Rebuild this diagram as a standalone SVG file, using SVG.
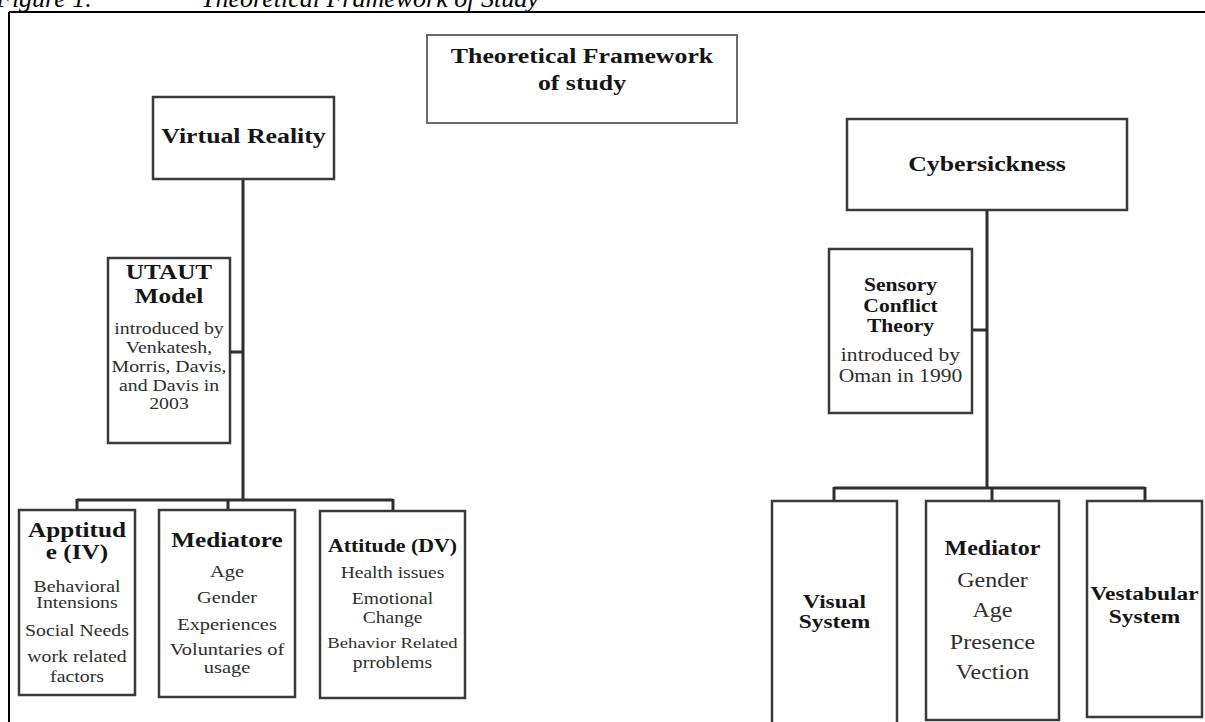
<svg xmlns="http://www.w3.org/2000/svg" width="1205" height="722" viewBox="0 0 1205 722">
<style>
.box{fill:#fff;stroke:#3a3a3a;stroke-width:2.5}
.tbox{fill:#fff;stroke:#6a6a6a;stroke-width:2}
.h{font-family:"Liberation Serif","Times New Roman",serif;font-weight:bold;text-anchor:middle;fill:#151515}
.b{font-family:"Liberation Serif","Times New Roman",serif;text-anchor:middle;fill:#2e2e2e}
.cap{font-family:"Liberation Serif","Times New Roman",serif;font-style:italic;font-size:26px;fill:#000}
#connectors line{stroke:#2e2e2e;stroke-width:3;fill:none}
</style>
<rect x="0" y="0" width="1205" height="722" fill="#fff"/>
<g id="caption">
<text class="cap" x="-4" y="7">Figure 1.</text>
<text class="cap" x="201" y="7">Theoretical Framework of Study</text>
</g>
<g id="frame">
<line x1="9" y1="12" x2="1205" y2="12" stroke="#000" stroke-width="2"/>
<line x1="9" y1="12" x2="9" y2="722" stroke="#000" stroke-width="2"/>
</g>
<g id="connectors">
<line x1="243" y1="179" x2="243" y2="500"/>
<line x1="230" y1="352" x2="243" y2="352"/>
<line x1="77" y1="500" x2="393" y2="500"/>
<line x1="77" y1="499" x2="77" y2="510"/>
<line x1="228" y1="499" x2="228" y2="510"/>
<line x1="393" y1="499" x2="393" y2="511"/>
<line x1="987" y1="210" x2="987" y2="488"/>
<line x1="972" y1="330" x2="987" y2="330"/>
<line x1="834" y1="488" x2="1145" y2="488"/>
<line x1="834" y1="487" x2="834" y2="501"/>
<line x1="992" y1="487" x2="992" y2="501"/>
<line x1="1145" y1="487" x2="1145" y2="501"/>
</g>
<g id="n-title">
<rect class="tbox" x="427" y="35" width="310" height="88"/>
<g transform="translate(582 0) scale(1.2 1)">
<text class="h" y="63" font-size="21.5">Theoretical Framework</text>
<text class="h" y="90" font-size="21.5">of study</text>
</g>
</g>
<g id="n-vr">
<rect class="box" x="153" y="97" width="181" height="82"/>
<g transform="translate(243.5 0) scale(1.2 1)">
<text class="h" y="143" font-size="21.5">Virtual Reality</text>
</g>
</g>
<g id="n-utaut">
<rect class="box" x="108" y="258" width="122" height="185"/>
<g transform="translate(169 0) scale(1.2 1)">
<text class="h" y="279" font-size="21">UTAUT</text>
<text class="h" y="303" font-size="21">Model</text>
<text class="b" y="334" font-size="16.5">introduced by</text>
<text class="b" y="353" font-size="16.5">Venkatesh,</text>
<text class="b" y="372" font-size="16.5">Morris, Davis,</text>
<text class="b" y="391" font-size="16.5">and Davis in</text>
<text class="b" y="409" font-size="16.5">2003</text>
</g>
</g>
<g id="n-apptitude">
<rect class="box" x="19" y="510" width="116" height="185"/>
<g transform="translate(77 0) scale(1.2 1)">
<text class="h" y="537" font-size="21">Apptitud</text>
<text class="h" y="559" font-size="21">e (IV)</text>
<text class="b" y="592" font-size="16.5">Behavioral</text>
<text class="b" y="608" font-size="16.5">Intensions</text>
<text class="b" y="636" font-size="16.5">Social Needs</text>
<text class="b" y="662" font-size="16.5">work related</text>
<text class="b" y="682" font-size="16.5">factors</text>
</g>
</g>
<g id="n-mediatore">
<rect class="box" x="159" y="510" width="136" height="187"/>
<g transform="translate(227 0) scale(1.2 1)">
<text class="h" y="547" font-size="21">Mediatore</text>
<text class="b" y="577" font-size="17">Age</text>
<text class="b" y="603" font-size="17">Gender</text>
<text class="b" y="630" font-size="17">Experiences</text>
<text class="b" y="655" font-size="17">Voluntaries of</text>
<text class="b" y="673" font-size="17">usage</text>
</g>
</g>
<g id="n-attitude">
<rect class="box" x="320" y="511" width="145" height="187"/>
<g transform="translate(392.5 0) scale(1.2 1)">
<text class="h" y="552" font-size="18.2">Attitude (DV)</text>
<text class="b" y="578" font-size="16.3">Health issues</text>
<text class="b" y="604" font-size="16.3">Emotional</text>
<text class="b" y="623" font-size="16.3">Change</text>
<text class="b" y="648" font-size="15.6">Behavior Related</text>
<text class="b" y="668" font-size="16.3">prroblems</text>
</g>
</g>
<g id="n-cyber">
<rect class="box" x="847" y="119" width="280" height="91"/>
<g transform="translate(987 0) scale(1.2 1)">
<text class="h" y="171" font-size="21.5">Cybersickness</text>
</g>
</g>
<g id="n-sensory">
<rect class="box" x="829" y="249" width="143" height="164"/>
<g transform="translate(900.5 0) scale(1.2 1)">
<text class="h" y="291" font-size="18">Sensory</text>
<text class="h" y="312" font-size="18">Conflict</text>
<text class="h" y="332" font-size="18">Theory</text>
<text class="b" y="361" font-size="18">introduced by</text>
<text class="b" y="382" font-size="18">Oman in 1990</text>
</g>
</g>
<g id="n-visual">
<rect class="box" x="772" y="501" width="125" height="240"/>
<g transform="translate(834.5 0) scale(1.2 1)">
<text class="h" y="608" font-size="19.5">Visual</text>
<text class="h" y="628" font-size="19.5">System</text>
</g>
</g>
<g id="n-mediator">
<rect class="box" x="926" y="501" width="133" height="219"/>
<g transform="translate(992.5 0) scale(1.2 1)">
<text class="h" y="555" font-size="20">Mediator</text>
<text class="b" y="587" font-size="20">Gender</text>
<text class="b" y="617" font-size="20">Age</text>
<text class="b" y="649" font-size="20">Presence</text>
<text class="b" y="679" font-size="20">Vection</text>
</g>
</g>
<g id="n-vestabular">
<rect class="box" x="1087" y="501" width="115" height="216"/>
<g transform="translate(1144.5 0) scale(1.2 1)">
<text class="h" y="600" font-size="19.5">Vestabular</text>
<text class="h" y="623" font-size="19.5">System</text>
</g>
</g>
</svg>
